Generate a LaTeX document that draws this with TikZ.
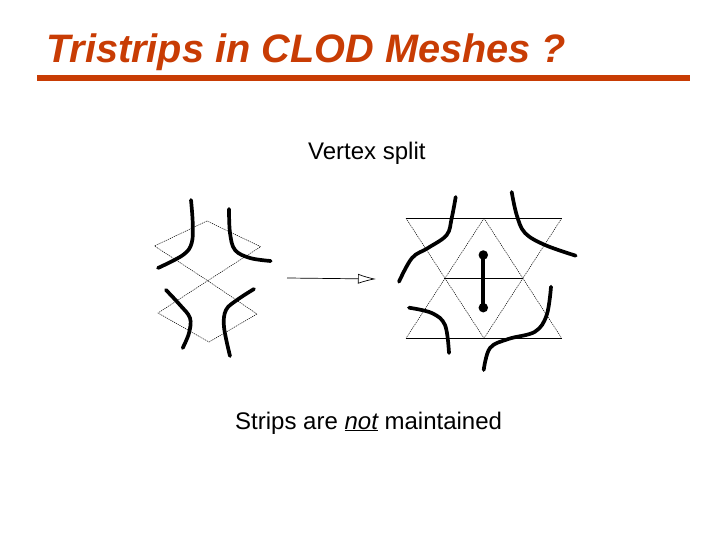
\documentclass[tikz,border=0pt]{standalone}
\usepackage{fontspec}
\setmainfont{Liberation Sans}
\usetikzlibrary{arrows.meta,positioning}
\definecolor{titlered}{RGB}{200,60,4}

\begin{document}
\begin{tikzpicture}[
    x=1pt, y=-1pt,
    title/.style={inner sep=0pt, anchor=base west, text=titlered, font=\fontsize{39.7}{44}\selectfont\bfseries\itshape},
    label/.style={inner sep=0pt, anchor=base west, font=\fontsize{24}{28}\selectfont},
    mesh/.style={black, line width=0.5pt, dash pattern=on 1.2pt off 0.9pt},
    edge/.style={black, line width=0.8pt},
    strip/.style={black, line width=3.7pt, line cap=round},
    dot/.style={circle, fill=black, inner sep=0pt, minimum size=9.5pt},
    arrow/.style={-{Latex[open,length=18pt,width=10pt]}, black, line width=0.7pt}
]
    \useasboundingbox (0,0) rectangle (720,540);

    \node[title] (heading) at (46,62.7) {Tristrips in CLOD Meshes ?};
    \coordinate (ruleL) at (37,78);
    \coordinate (ruleR) at (690,78);
    \draw[titlered, line width=6pt] (ruleL) -- (ruleR);

    \node[label] (vsplit) at (308,160) {Vertex split};
    \node[label] (caption) at (235,429) {Strips are \underline{\itshape not} maintained};

    % left mesh
    \coordinate (lt) at (207,221);
    \coordinate (ll) at (154.5,246);
    \coordinate (lr) at (260.7,246.7);
    \coordinate (lc) at (207.7,280.7);
    \coordinate (ml) at (158,313);
    \coordinate (mr) at (257,314);
    \coordinate (lb) at (209,342);
    \draw[mesh] (lt) -- (ll) -- (lc) -- (lr) -- cycle;
    \draw[mesh] (lc) -- (ml) -- (lb) -- (mr) -- cycle;

    \draw[strip] plot[smooth, tension=0.6] coordinates {(191,200) (192.7,223) (191.7,243) (183,255) (158,268)};
    \draw[strip] plot[smooth, tension=0.6] coordinates {(229,209) (230,233) (235,250) (250,258) (270.7,261)};
    \draw[strip] plot[smooth, tension=0.6] coordinates {(166,290) (180,305) (190,318) (189,333) (182.7,348)};
    \draw[strip] plot[smooth, tension=0.6] coordinates {(254,289) (237,300) (226,310) (224,327) (230,356)};

    % arrow between the meshes
    \coordinate (from) at (287,278);
    \coordinate (to) at (376,279);
    \draw[arrow] (from) -- (to);

    % right mesh
    \coordinate (tl) at (406,218.3);
    \coordinate (tm) at (484,218.3);
    \coordinate (tr) at (561.7,218.3);
    \coordinate (cl) at (444.3,278.3);
    \coordinate (cr) at (523.3,278.3);
    \coordinate (bl) at (406,338.3);
    \coordinate (bm) at (484,338.3);
    \coordinate (br) at (561.7,338.3);
    \draw[edge] (tl) -- (tr);
    \draw[edge] (cl) -- (cr);
    \draw[edge] (bl) -- (br);
    \draw[mesh] (tl) -- (bm);
    \draw[mesh] (tm) -- (bl);
    \draw[mesh] (tm) -- (br);
    \draw[mesh] (tr) -- (bm);

    \draw[strip] plot[smooth, tension=0.6] coordinates {(455.7,197) (451.7,218) (446.7,235) (428,248) (412,258) (399,281.7)};
    \draw[strip] plot[smooth, tension=0.6] coordinates {(511.7,192) (516.7,215) (525,233) (545,245) (575.7,255.7)};
    \draw[strip] plot[smooth, tension=0.6] coordinates {(409,307.7) (431.7,313) (445,325) (449,353)};
    \draw[strip] plot[smooth, tension=0.6] coordinates {(551,286.7) (546.7,315) (535,331.7) (508.3,339) (490,348) (483.7,370)};

    % split vertices
    \node[dot] (up) at (483.3,255) {};
    \node[dot] (down) at (483.3,307.7) {};
    \draw[black, line width=3.7pt] (up.center) -- (down.center);
\end{tikzpicture}
\end{document}
